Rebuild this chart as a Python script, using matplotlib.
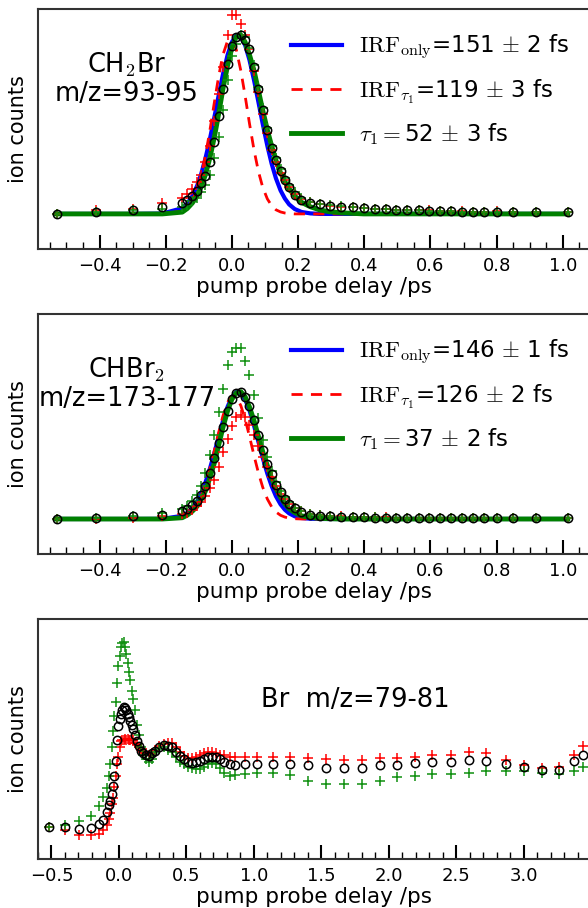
import numpy as np
import matplotlib
matplotlib.use('Agg')
from matplotlib import pyplot as plt
from matplotlib.ticker import MultipleLocator

plt.rcParams['mathtext.fontset'] = 'cm'
plt.rcParams['font.family'] = ['DejaVu Sans']

# delays (ps) for the CH2Br and CHBr2 scans
t_fit = [-0.53, -0.41, -0.30, -0.21, -0.15, -0.135, -0.12, -0.105, -0.093, -0.08, -0.067,
         -0.053, -0.04, -0.027, -0.013, 0.0, 0.013, 0.027, 0.04, 0.053, 0.067, 0.08, 0.093,
         0.107, 0.12, 0.133, 0.147, 0.16, 0.173, 0.19, 0.21, 0.237, 0.266, 0.296, 0.331,
         0.366, 0.398, 0.432, 0.465, 0.497, 0.53, 0.564, 0.597, 0.63, 0.663, 0.696, 0.728,
         0.761, 0.80, 0.85, 0.92, 1.015]

# CH2Br m/z=93-95
ch2br_black = [0.0, 0.01, 0.02, 0.04, 0.06, 0.08, 0.10, 0.13, 0.17, 0.21, 0.29, 0.40, 0.55,
               0.70, 0.84, 0.94, 0.99, 1.0, 0.97, 0.92, 0.82, 0.70, 0.58, 0.47, 0.37, 0.30,
               0.24, 0.19, 0.15, 0.105, 0.08, 0.06, 0.055, 0.047, 0.04, 0.036, 0.032, 0.028,
               0.025, 0.022, 0.02, 0.02, 0.018, 0.016, 0.014, 0.012, 0.01, 0.008, 0.01, 0.01,
               0.01, 0.01]
ch2br_red = [0.0, 0.02, 0.03, 0.06, 0.09, 0.11, 0.14, 0.18, 0.22, 0.29, 0.38, 0.52, 0.67,
             0.82, 1.0, 1.11, 1.11, 1.06, 1.0, 0.92, 0.80, 0.68, 0.56, 0.45, 0.36, 0.29, 0.23,
             0.19, 0.15, 0.11, 0.085, 0.065, 0.055, 0.045, 0.04, 0.036, 0.032, 0.03, 0.026,
             0.024, 0.022, 0.02, 0.02, 0.018, 0.016, 0.014, 0.012, 0.01, 0.014, 0.012, 0.01,
             0.01]
ch2br_green = [0.0, 0.01, 0.02, 0.03, 0.04, 0.05, 0.07, 0.09, 0.12, 0.16, 0.22, 0.31, 0.43,
               0.58, 0.75, 0.88, 0.95, 1.0, 0.99, 0.93, 0.83, 0.71, 0.59, 0.48, 0.38, 0.31,
               0.25, 0.20, 0.16, 0.12, 0.09, 0.068, 0.057, 0.048, 0.042, 0.037, 0.033, 0.029,
               0.026, 0.023, 0.021, 0.02, 0.018, 0.016, 0.014, 0.012, 0.01, 0.009, 0.01, 0.01,
               0.01, 0.01]
ch2br_fit_irf = [0, 0, 0, 0.002, 0.032, 0.058, 0.098, 0.158, 0.222, 0.31, 0.414, 0.541,
                 0.663, 0.781, 0.889, 0.961, 0.997, 0.99, 0.943, 0.861, 0.746, 0.626, 0.504,
                 0.381, 0.281, 0.199, 0.131, 0.086, 0.053, 0.027, 0.011, 0.003] + [0] * 20
ch2br_fit_irf_tau = [0, 0, 0, 0, 0.016, 0.036, 0.074, 0.138, 0.215, 0.325, 0.462, 0.624,
                     0.77, 0.89, 0.968, 0.975, 0.92, 0.80, 0.659, 0.506, 0.355, 0.238,
                     0.149, 0.084, 0.046, 0.023, 0.011, 0.005, 0.002] + [0] * 23
ch2br_fit_tau = [0, 0, 0, 0, 0.01, 0.03, 0.06, 0.10, 0.15, 0.22, 0.31, 0.43, 0.56, 0.70,
                 0.83, 0.93, 0.99, 1.0, 0.96, 0.89, 0.80, 0.69, 0.58, 0.47, 0.38, 0.30, 0.23,
                 0.18, 0.14, 0.10, 0.065, 0.04, 0.022, 0.012, 0.006, 0.003] + [0] * 16

# CHBr2 m/z=173-177
chbr2_black = [0.0, 0.01, 0.02, 0.03, 0.06, 0.08, 0.11, 0.14, 0.19, 0.26, 0.36, 0.48, 0.60,
               0.72, 0.85, 0.94, 0.99, 1.0, 0.96, 0.89, 0.78, 0.66, 0.54, 0.43, 0.35, 0.27,
               0.21, 0.16, 0.12, 0.085, 0.055, 0.035, 0.026, 0.02, 0.016, 0.014, 0.012,
               0.011] + [0.01] * 14
chbr2_red = [0.0, 0.0, 0.01, 0.02, 0.04, 0.05, 0.07, 0.10, 0.13, 0.18, 0.24, 0.31, 0.41,
             0.53, 0.63, 0.73, 0.80, 0.82, 0.80, 0.74, 0.66, 0.57, 0.49, 0.41, 0.33, 0.26,
             0.20, 0.16, 0.12, 0.09, 0.06, 0.04, 0.03, 0.024, 0.02, 0.017, 0.015, 0.013,
             0.012, 0.011] + [0.01] * 12
chbr2_green = [0.0, 0.01, 0.02, 0.05, 0.08, 0.10, 0.14, 0.19, 0.26, 0.36, 0.50, 0.66, 0.84,
               1.02, 1.21, 1.31, 1.34, 1.34, 1.24, 1.13, 0.97, 0.79, 0.62, 0.49, 0.38, 0.29,
               0.22, 0.17, 0.13, 0.09, 0.06, 0.04, 0.03, 0.022, 0.018, 0.015, 0.013, 0.012,
               0.011] + [0.01] * 13
chbr2_fit_irf = [0, 0, 0, 0.001, 0.025, 0.048, 0.084, 0.14, 0.201, 0.287, 0.391, 0.519,
                 0.646, 0.769, 0.882, 0.959, 0.997, 0.99, 0.939, 0.853, 0.732, 0.607, 0.481,
                 0.357, 0.259, 0.179, 0.115, 0.073, 0.044, 0.021, 0.008, 0.002] + [0] * 20
chbr2_fit_irf_tau = [0, 0, 0, 0, 0.015, 0.031, 0.063, 0.117, 0.181, 0.274, 0.392, 0.538,
                     0.68, 0.81, 0.917, 0.966, 0.96, 0.89, 0.783, 0.65, 0.496, 0.363, 0.25,
                     0.157, 0.096, 0.055, 0.029, 0.015, 0.007, 0.002] + [0] * 22
chbr2_fit_tau = [0, 0, 0, 0, 0.01, 0.03, 0.06, 0.10, 0.15, 0.22, 0.32, 0.44, 0.58, 0.72,
                 0.85, 0.94, 0.99, 1.0, 0.96, 0.88, 0.77, 0.65, 0.53, 0.42, 0.32, 0.24, 0.17,
                 0.12, 0.08, 0.05, 0.025, 0.012, 0.005, 0.002] + [0] * 18

# Br m/z=79-81, longer scan
t_br = [-0.52, -0.40, -0.295, -0.21, -0.15, -0.115, -0.09,
        -0.075, -0.065, -0.055, -0.045, -0.035, -0.025, -0.015, -0.005, 0.005, 0.015, 0.025,
        0.035, 0.045, 0.055, 0.065, 0.075, 0.085, 0.095, 0.105,
        0.12, 0.135, 0.15, 0.165, 0.18, 0.2, 0.22,
        0.245, 0.27, 0.30, 0.33, 0.36, 0.39, 0.42, 0.45, 0.48, 0.51,
        0.54, 0.57, 0.60, 0.63, 0.66, 0.69, 0.72, 0.75, 0.78, 0.82,
        0.86, 0.93, 1.02, 1.14, 1.27,
        1.40, 1.53, 1.67, 1.80, 1.93, 2.06, 2.19, 2.32, 2.46, 2.59,
        2.72, 2.87, 3.0, 3.13, 3.26, 3.37, 3.44]
br_black = [0.0, 0.0, -0.02, -0.01, 0.02, 0.055, 0.125,
            0.18, 0.21, 0.27, 0.34, 0.42, 0.55, 0.72, 0.84, 0.90, 0.94, 0.97, 1.0, 0.99, 0.97,
            0.94, 0.91, 0.88, 0.85, 0.81,
            0.76, 0.71, 0.67, 0.63, 0.61, 0.60, 0.59,
            0.61, 0.63, 0.667, 0.68, 0.675, 0.66, 0.62, 0.59, 0.56, 0.535,
            0.528, 0.535, 0.55, 0.565, 0.578, 0.583, 0.578, 0.565, 0.54, 0.52,
            0.51, 0.52, 0.52, 0.52, 0.52,
            0.51, 0.486, 0.486, 0.486, 0.51, 0.51, 0.53, 0.54, 0.54, 0.556,
            0.55, 0.52, 0.5, 0.47, 0.475, 0.55, 0.6]
br_red = [0.0, -0.03, -0.07, -0.07, -0.06, -0.03, 0.01,
          0.06, 0.11, 0.19, 0.24, 0.33, 0.42, 0.52, 0.58, 0.66, 0.71, 0.72, 0.725, 0.73,
          0.725, 0.73, 0.725, 0.72, 0.73, 0.72,
          0.70, 0.68, 0.66, 0.64, 0.62, 0.61, 0.60,
          0.61, 0.63, 0.67, 0.69, 0.70, 0.70, 0.66, 0.62, 0.59, 0.57,
          0.57, 0.58, 0.60, 0.61, 0.62, 0.625, 0.615, 0.60, 0.60, 0.58,
          0.58, 0.58, 0.58, 0.58, 0.58,
          0.57, 0.56, 0.556, 0.556, 0.57, 0.57, 0.58, 0.60, 0.60, 0.625,
          0.61, 0.556, 0.514, 0.486, 0.50, 0.60, 0.67]
br_green = [0.0, 0.015, 0.05, 0.09, 0.17, 0.25, 0.32,
            0.42, 0.52, 0.66, 0.80, 0.92, 1.04, 1.20, 1.34, 1.42, 1.50, 1.53, 1.54, 1.50, 1.44,
            1.36, 1.29, 1.22, 1.13, 1.06,
            0.97, 0.85, 0.76, 0.66, 0.60, 0.56, 0.54,
            0.56, 0.62, 0.65, 0.66, 0.64, 0.62, 0.58, 0.54, 0.52, 0.50,
            0.49, 0.48, 0.48, 0.50, 0.52, 0.53, 0.52, 0.49, 0.45, 0.42,
            0.43, 0.44, 0.445, 0.445, 0.43,
            0.38, 0.353, 0.353, 0.353, 0.38, 0.41, 0.42, 0.44, 0.44, 0.45,
            0.464, 0.464, 0.464, 0.445, 0.44, 0.46, 0.50]

labels_ch2br = [r'$\mathrm{IRF_{only}}$=151$\,\pm\,$2 fs',
                r'$\mathrm{IRF}_{\tau_1}$=119$\,\pm\,$3 fs',
                r'$\tau_1=$52$\,\pm\,$3 fs']
labels_chbr2 = [r'$\mathrm{IRF_{only}}$=146$\,\pm\,$1 fs',
                r'$\mathrm{IRF}_{\tau_1}$=126$\,\pm\,$2 fs',
                r'$\tau_1=$37$\,\pm\,$2 fs']


def style_axis(ax, major, minor):
    for s in ax.spines.values():
        s.set_linewidth(1.5)
        s.set_color('#333333')
    ax.xaxis.set_major_locator(MultipleLocator(major))
    ax.xaxis.set_minor_locator(MultipleLocator(minor))
    ax.tick_params(axis='x', which='major', direction='in', length=10, width=1.5,
                   labelsize=13, top=False, pad=6)
    ax.tick_params(axis='x', which='minor', direction='in', length=5, width=1, top=False)
    ax.tick_params(axis='y', which='both', left=False, labelleft=False, right=False)
    ax.set_xlabel('pump probe delay /ps', fontsize=15.5, labelpad=1)
    ax.set_ylabel('ion counts', fontsize=15, labelpad=7)


def fit_panel(ax, black, red, green, f_irf, f_irf_tau, f_tau, labels, ylim, title):
    l1, = ax.plot(t_fit, f_irf, color='blue', lw=3, zorder=2)
    l2, = ax.plot(t_fit, f_irf_tau, color='red', lw=2, ls='--', dashes=(4, 3), zorder=2)
    l3, = ax.plot(t_fit, f_tau, color='green', lw=3.5, zorder=2)
    ax.plot(t_fit, red, '+', color='red', ms=7, mew=1.1, zorder=3)
    ax.plot(t_fit, green, '+', color='#109010', ms=7, mew=1.1, zorder=3)
    ax.plot(t_fit, black, 'o', mfc='none', mec='black', ms=6, mew=1.1, zorder=4)
    ax.set_xlim(-0.586, 1.082)
    ax.set_ylim(*ylim)
    style_axis(ax, 0.2, 0.05)
    ax.legend([l1, l2, l3], labels, loc='upper left', bbox_to_anchor=(0.43, 0.967),
              frameon=False, fontsize=16.5, handlelength=2.2, handletextpad=0.75,
              labelspacing=0.66, borderaxespad=0.3)
    ax.text(0.161, 0.71, title, transform=ax.transAxes, ha='center', va='center',
            fontsize=18.5, linespacing=1.1)


fig = plt.figure(figsize=(5.88, 9.08), dpi=100)

# axes run a little past the right edge, as in the cropped original
ax1 = fig.add_axes([0.0646, 0.7258, 0.9388, 0.2642])
fit_panel(ax1, ch2br_black, ch2br_red, ch2br_green, ch2br_fit_irf, ch2br_fit_irf_tau,
          ch2br_fit_tau, labels_ch2br, (-0.196, 1.145), 'CH$_2$Br\nm/z=93-95')

ax2 = fig.add_axes([0.0646, 0.390, 0.9388, 0.2642])
fit_panel(ax2, chbr2_black, chbr2_red, chbr2_green, chbr2_fit_irf, chbr2_fit_irf_tau,
          chbr2_fit_tau, labels_chbr2, (-0.274, 1.61), 'CHBr$_2$\nm/z=173-177')

ax3 = fig.add_axes([0.0646, 0.054, 0.9388, 0.2642])
ax3.plot(t_br, br_red, '+', color='red', ms=7, mew=1.1, zorder=3)
ax3.plot(t_br, br_green, '+', color='#109010', ms=7, mew=1.1, zorder=3)
ax3.plot(t_br, br_black, 'o', mfc='none', mec='black', ms=6, mew=1.1, zorder=4)
ax3.set_xlim(-0.6, 3.489)
ax3.set_ylim(-0.27, 1.73)
style_axis(ax3, 0.5, 0.1)
ax3.text(0.574, 0.6625, 'Br  m/z=79-81', transform=ax3.transAxes, ha='center',
         va='center', fontsize=18.5)

fig.savefig('out.png', dpi=100)
